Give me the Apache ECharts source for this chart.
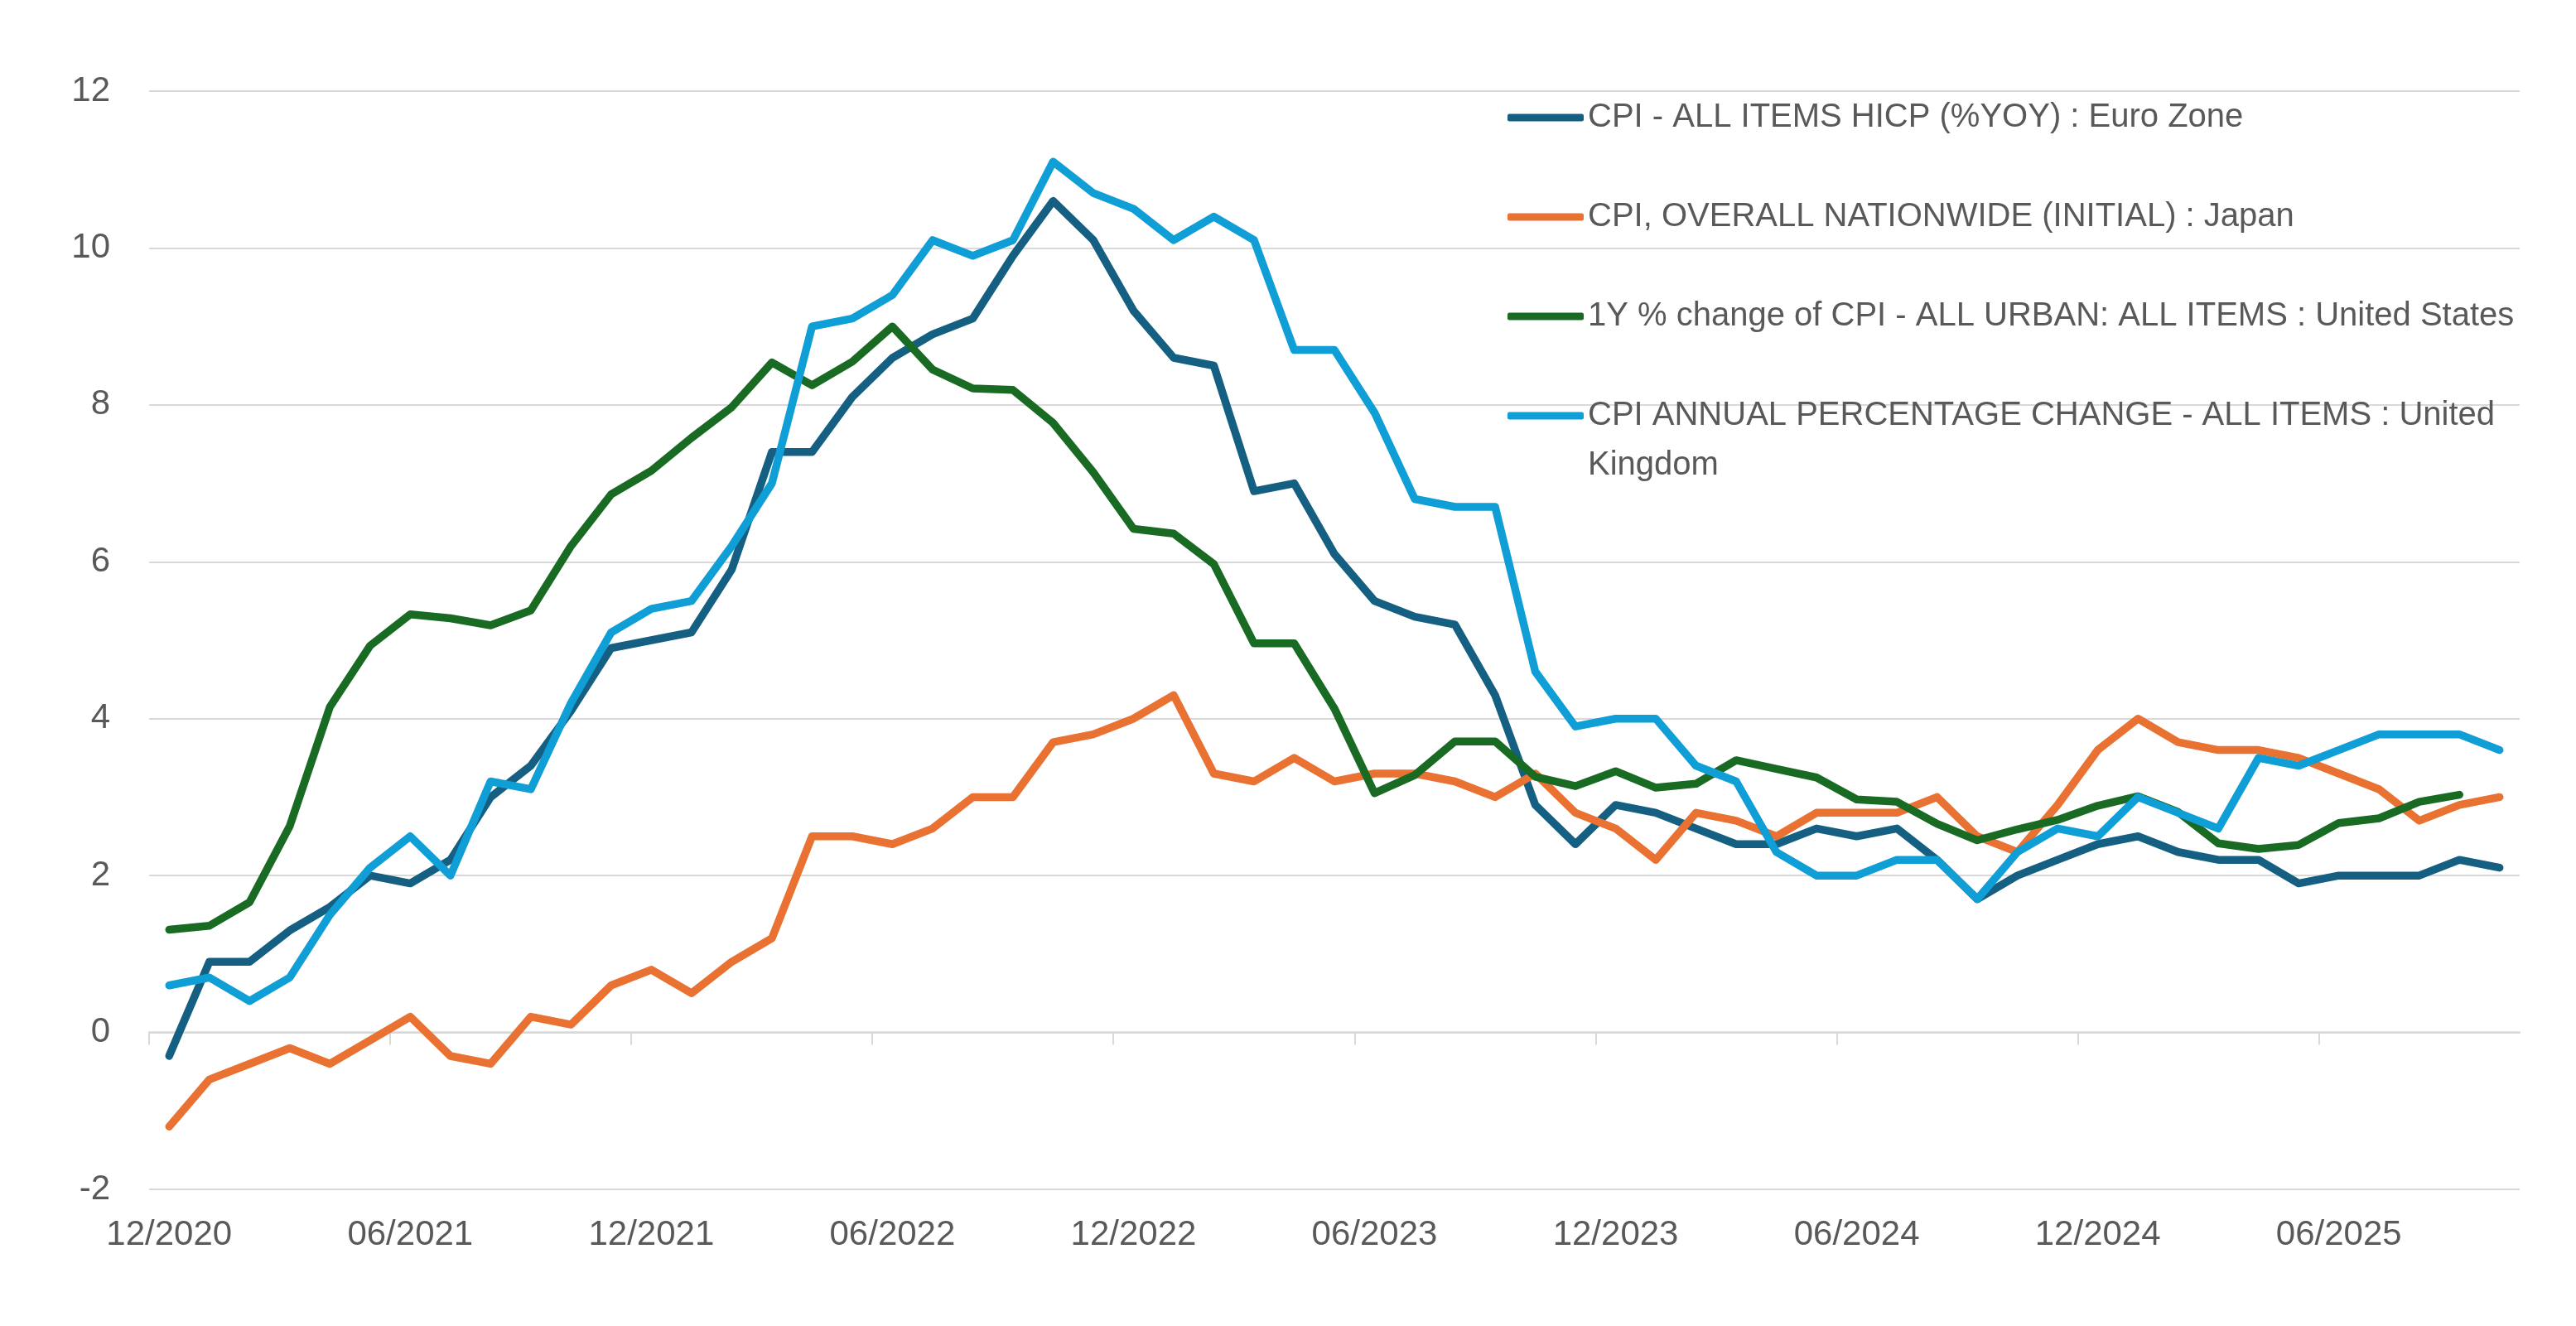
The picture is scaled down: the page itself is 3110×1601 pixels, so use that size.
<!DOCTYPE html>
<html>
<head>
<meta charset="utf-8">
<script src="https://cdn.jsdelivr.net/npm/echarts@6/dist/echarts.min.js"></script>
<style>
html,body{margin:0;padding:0;background:#fff;}
#chart{width:3110px;height:1601px;}
</style>
</head>
<body>
<div id="chart"></div>
<script>
const categories = [
 '12/2020',
 '01/2021','02/2021','03/2021','04/2021','05/2021','06/2021','07/2021','08/2021','09/2021','10/2021','11/2021','12/2021',
 '01/2022','02/2022','03/2022','04/2022','05/2022','06/2022','07/2022','08/2022','09/2022','10/2022','11/2022','12/2022',
 '01/2023','02/2023','03/2023','04/2023','05/2023','06/2023','07/2023','08/2023','09/2023','10/2023','11/2023','12/2023',
 '01/2024','02/2024','03/2024','04/2024','05/2024','06/2024','07/2024','08/2024','09/2024','10/2024','11/2024','12/2024',
 '01/2025','02/2025','03/2025','04/2025','05/2025','06/2025','07/2025','08/2025','09/2025','10/2025'
];

const seriesNames = [
 'CPI - ALL ITEMS HICP (%YOY) : Euro Zone',
 'CPI, OVERALL NATIONWIDE (INITIAL) : Japan',
 '1Y % change of CPI - ALL URBAN: ALL ITEMS : United States',
 'CPI ANNUAL PERCENTAGE CHANGE - ALL ITEMS : United Kingdom'
];

const euroZone = [-0.3,
 0.9,0.9,1.3,1.6,2.0,1.9,2.2,3.0,3.4,4.1,4.9,5.0,
 5.1,5.9,7.4,7.4,8.1,8.6,8.9,9.1,9.9,10.6,10.1,9.2,
 8.6,8.5,6.9,7.0,6.1,5.5,5.3,5.2,4.3,2.9,2.4,2.9,
 2.8,2.6,2.4,2.4,2.6,2.5,2.6,2.2,1.7,2.0,2.2,2.4,
 2.5,2.3,2.2,2.2,1.9,2.0,2.0,2.0,2.2,2.1];

const japan = [-1.2,
 -0.6,-0.4,-0.2,-0.4,-0.1,0.2,-0.3,-0.4,0.2,0.1,0.6,0.8,
 0.5,0.9,1.2,2.5,2.5,2.4,2.6,3.0,3.0,3.7,3.8,4.0,
 4.3,3.3,3.2,3.5,3.2,3.3,3.3,3.2,3.0,3.3,2.8,2.6,
 2.2,2.8,2.7,2.5,2.8,2.8,2.8,3.0,2.5,2.3,2.9,3.6,
 4.0,3.7,3.6,3.6,3.5,3.3,3.1,2.7,2.9,3.0];

const unitedStates = [1.31,
 1.36,1.66,2.63,4.15,4.93,5.33,5.28,5.19,5.38,6.20,6.86,7.16,
 7.58,7.97,8.54,8.25,8.55,9.00,8.45,8.21,8.19,7.77,7.14,6.42,
 6.36,5.97,4.96,4.96,4.13,3.05,3.28,3.71,3.71,3.26,3.14,3.33,
 3.12,3.17,3.47,3.36,3.25,2.97,2.94,2.66,2.45,2.59,2.71,2.89,
 3.01,2.81,2.41,2.34,2.39,2.67,2.73,2.94,3.03];

const unitedKingdom = [0.6,
 0.7,0.4,0.7,1.5,2.1,2.5,2.0,3.2,3.1,4.2,5.1,5.4,
 5.5,6.2,7.0,9.0,9.1,9.4,10.1,9.9,10.1,11.1,10.7,10.5,
 10.1,10.4,10.1,8.7,8.7,7.9,6.8,6.7,6.7,4.6,3.9,4.0,
 4.0,3.4,3.2,2.3,2.0,2.0,2.2,2.2,1.7,2.3,2.6,2.5,
 3.0,2.8,2.6,3.5,3.4,3.6,3.8,3.8,3.8,3.6];

const yTicks = {min: -2, max: 12, interval: 2};

// boundaries between months (one more than categories) used only for the zero-line tick marks
const boundaryCategories = categories.concat(['']);

const colors = ['#156082', '#E97132', '#196B24', '#0F9ED5'];
const FONT = 'Liberation Sans';
const TEXT = '#595959';
const GRID = '#D9D9D9';

const chart = echarts.init(document.getElementById('chart'), null, {renderer: 'canvas'});

function mkSeries(i, data) {
  return {
    name: seriesNames[i],
    type: 'line',
    xAxisIndex: 0,
    yAxisIndex: 0,
    data: data,
    symbol: 'none',
    showSymbol: false,
    smooth: false,
    lineStyle: {color: colors[i], width: 9.5, cap: 'round', join: 'round'},
    itemStyle: {color: colors[i]},
    emphasis: {disabled: true},
    animation: false
  };
}

const option = {
  backgroundColor: '#ffffff',
  animation: false,
  color: colors,
  textStyle: {fontFamily: FONT},
  grid: {left: 180, right: 68, top: 110, bottom: 165, containLabel: false},
  legend: [
    {
      data: seriesNames.slice(0, 3),
      orient: 'vertical',
      left: 1820,
      top: 112,
      padding: 0,
      itemGap: 60,
      itemWidth: 92,
      itemHeight: 9,
      icon: 'roundRect',
      selectedMode: false,
      textStyle: {color: TEXT, fontSize: 40, fontFamily: FONT, lineHeight: 60}
    },
    {
      data: [seriesNames[3]],
      orient: 'vertical',
      left: 1820,
      top: 412,
      padding: 0,
      itemWidth: 92,
      itemHeight: 9,
      icon: 'roundRect',
      selectedMode: false,
      formatter: function (name) { return '\n' + name.replace(' Kingdom', '\nKingdom'); },
      textStyle: {color: TEXT, fontSize: 40, fontFamily: FONT, lineHeight: 60}
    }
  ],
  xAxis: [
    {
      type: 'category',
      data: categories,
      boundaryGap: true,
      position: 'bottom',
      axisLine: {show: false, onZero: false},
      axisTick: {show: false},
      axisLabel: {interval: 5, color: TEXT, fontSize: 42, fontFamily: FONT, margin: 34},
      splitLine: {show: false}
    },
    {
      type: 'category',
      data: boundaryCategories,
      boundaryGap: false,
      position: 'bottom',
      axisLine: {show: true, onZero: true, lineStyle: {color: GRID, width: 2.5}},
      axisTick: {show: true, interval: 5, length: 15, lineStyle: {color: GRID, width: 2}},
      axisLabel: {show: false, interval: 5},
      splitLine: {show: false}
    }
  ],
  yAxis: {
    type: 'value',
    min: yTicks.min,
    max: yTicks.max,
    interval: yTicks.interval,
    axisLine: {show: false},
    axisTick: {show: false},
    axisLabel: {color: TEXT, fontSize: 42, fontFamily: FONT, margin: 47},
    splitLine: {show: true, lineStyle: {color: GRID, width: 2}}
  },
  series: [
    mkSeries(0, euroZone),
    mkSeries(1, japan),
    mkSeries(2, unitedStates),
    mkSeries(3, unitedKingdom)
  ]
};

chart.setOption(option);
</script>
</body>
</html>
